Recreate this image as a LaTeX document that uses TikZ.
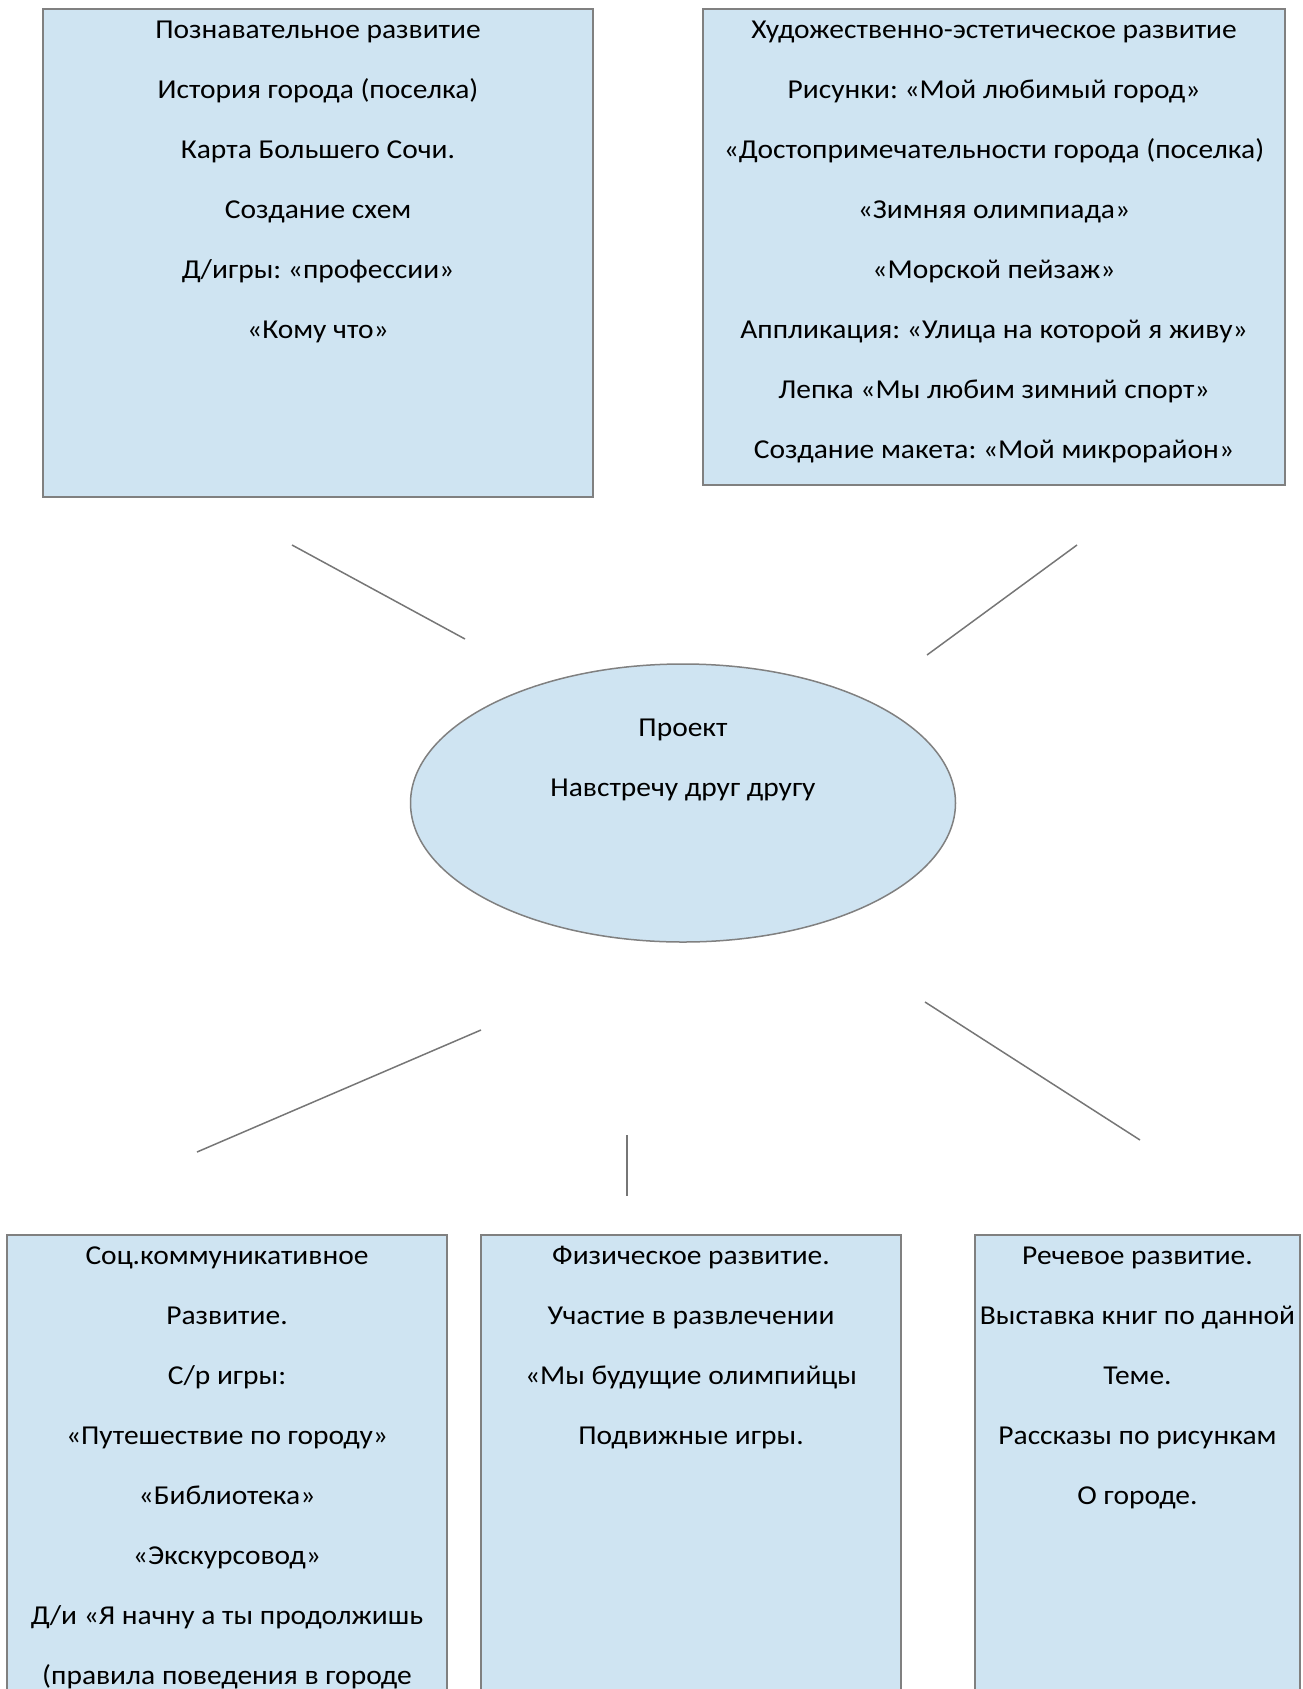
\documentclass[tikz,border=0pt]{standalone}
\usepackage{fontspec}
\setmainfont{Carlito}[FakeStretch=1.08]
\frenchspacing
\usetikzlibrary{shapes.geometric}
\definecolor{boxfill}{RGB}{207,228,242}
\definecolor{boxline}{RGB}{128,128,128}
\definecolor{conn}{RGB}{118,118,118}
\begin{document}
\begin{tikzpicture}[x=1pt,y=-1pt,
  panel/.style={draw=boxline, line width=2pt, fill=boxfill, rectangle, anchor=north west, inner sep=0pt, outer sep=0pt},
  body/.style={anchor=north, inner sep=0pt, outer sep=0pt, align=center, font=\fontsize{27.3}{60}\selectfont, text=black},
  link/.style={draw=conn, line width=1.5pt}]
\useasboundingbox (0,0) rectangle (1302,1689);
\clip (0,0) rectangle (1302,1689);
% top boxes
\node[panel, minimum width=550pt, minimum height=487.5pt] (cog) at (43,9) {};
\node[body] (cogtxt) at ([yshift=13pt]cog.north) {\strut Познавательное развитие\\
История города (поселка)\\
Карта Большего Сочи.\\
Создание схем\\
Д/игры: «профессии»\\
«Кому что»};
\node[panel, minimum width=582pt, minimum height=475.6pt] (art) at (703,9) {};
\node[body] (arttxt) at ([yshift=13pt]art.north) {\strut Художественно-эстетическое развитие\\
Рисунки: «Мой любимый город»\\
«Достопримечательности города (поселка)\\
«Зимняя олимпиада»\\
«Морской пейзаж»\\
Аппликация: «Улица на которой я живу»\\
Лепка «Мы любим зимний спорт»\\
Создание макета: «Мой микрорайон»};
% centre ellipse
\node[ellipse, draw=boxline, fill=boxfill, line width=1.5pt, minimum width=545pt, minimum height=278pt, inner sep=0pt, outer sep=0pt] (proj) at (683,803) {};
\node[body] (projtxt) at ([yshift=-30pt]proj.north) {\strut Проект\\
Навстречу друг другу};
% bottom boxes
\node[panel, minimum width=440pt, minimum height=500pt] (soc) at (7,1235) {};
\node[body] (soctxt) at ([yshift=13pt]soc.north) {\strut Соц.коммуникативное\\
Развитие.\\
С/р игры:\\
«Путешествие по городу»\\
«Библиотека»\\
«Экскурсовод»\\
Д/и «Я начну а ты продолжишь\\
(правила поведения в городе};
\node[panel, minimum width=420pt, minimum height=500pt] (phys) at (481,1235) {};
\node[body] (physt) at ([yshift=13pt]phys.north) {\strut Физическое развитие.\\
Участие в развлечении\\
«Мы будущие олимпийцы\\
Подвижные игры.};
\node[panel, minimum width=325pt, minimum height=500pt] (speech) at (975,1235) {};
\node[body] (speecht) at ([yshift=13pt]speech.north) {\strut Речевое развитие.\\
Выставка книг по данной\\
Теме.\\
Рассказы по рисункам\\
О городе.};
% connectors
\coordinate (a1) at (292,545); \coordinate (a2) at (465,639);
\coordinate (b1) at (1077,545); \coordinate (b2) at (927,655);
\coordinate (c1) at (481,1030); \coordinate (c2) at (197,1152);
\coordinate (d1) at (627,1135); \coordinate (d2) at (627,1196);
\coordinate (e1) at (925,1002); \coordinate (e2) at (1140,1140);
\draw[link] (a1) -- (a2);
\draw[link] (b1) -- (b2);
\draw[link] (c1) -- (c2);
\draw[link] (d1) -- (d2);
\draw[link] (e1) -- (e2);
\end{tikzpicture}
\end{document}
